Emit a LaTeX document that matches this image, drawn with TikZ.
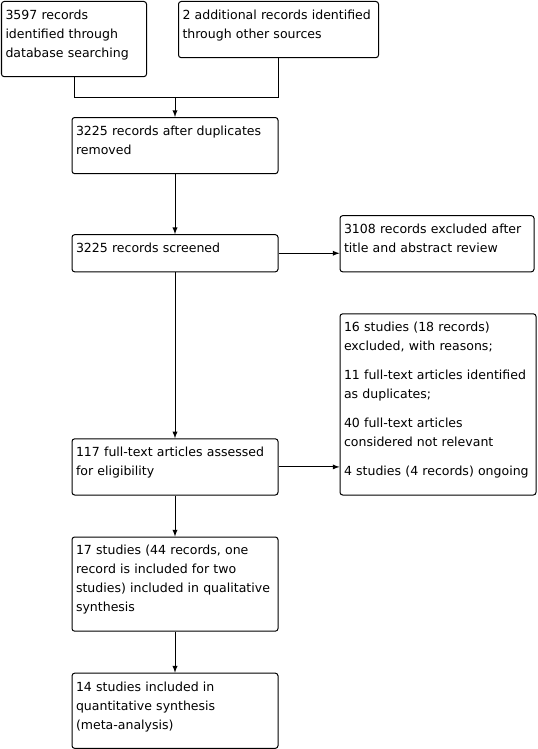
\documentclass[tikz,border=0pt]{standalone}
\usepackage{fontspec}
\setmainfont{DejaVu Sans}
\usetikzlibrary{positioning}
\newcommand{\boxfont}{\fontsize{9.4pt}{14.25pt}\selectfont}
\tikzstyle{block} = [draw, rectangle, rounded corners=2pt, align=left,
    inner xsep=3pt, inner ysep=3.5pt, font=\boxfont,
    execute at begin node=\strut,
    execute at end node={\rule[-10.9pt]{0pt}{10.9pt}}]
\tikzstyle{mainbox} = [block, text width=148.5pt]
\tikzstyle{branch} = [coordinate]

\begin{document}
\begin{tikzpicture}[x=0.75pt, y=-0.75pt, >=latex, line width=0.75pt]
    \useasboundingbox [fill=white] (0,0) rectangle (537,749);

    % Identification
    \node [block, anchor=north west, text width=102.75pt] (db) at (1,1)
        {3597 records\\identified through\\database searching};
    \node [block, anchor=north west, text width=144pt] (other) at (178,1)
        {2 additional records identified\\through other sources};

    % Main column
    \node [mainbox, anchor=north] (dup) at (175,117)
        {3225 records after duplicates\\removed};
    \node [branch, above=15pt of dup] (join) {};
    \node [mainbox, below=45pt of dup] (screened) {3225 records screened};
    \node [mainbox, below=124.5pt of screened] (fulltext)
        {117 full-text articles assessed\\for eligibility};
    \node [mainbox, below=30.75pt of fulltext] (qual)
        {17 studies (44 records, one\\record is included for two\\studies) included in qualitative\\synthesis};
    \node [mainbox, below=30.75pt of qual] (quant)
        {14 studies included in\\quantitative synthesis\\(meta-analysis)};

    % Exclusions
    \node [block, text width=139.5pt, right=45.75pt of screened.south east,
        anchor=south west] (excl)
        {3108 records excluded after\\title and abstract review};
    \node [block, text width=141pt, right=45.75pt of fulltext.south east,
        anchor=south west] (reasons)
        {16 studies (18 records)\\excluded, with reasons;\\[7.5pt]11 full-text articles identified\\as duplicates;\\[7.5pt]40 full-text articles\\considered not relevant\\[7.5pt]4 studies (4 records) ongoing};

    % Connectors
    \draw (db.south) |- (join);
    \draw (other.south) |- (join);
    \draw [->] (join) -- (dup);
    \draw [->] (dup) -- (screened);
    \draw [->] (screened.east) -- (screened.east -| excl.west);
    \draw [->] (screened) -- (fulltext);
    \draw [->] (fulltext.east) -- (fulltext.east -| reasons.west);
    \draw [->] (fulltext) -- (qual);
    \draw [->] (qual) -- (quant);
\end{tikzpicture}
\end{document}
